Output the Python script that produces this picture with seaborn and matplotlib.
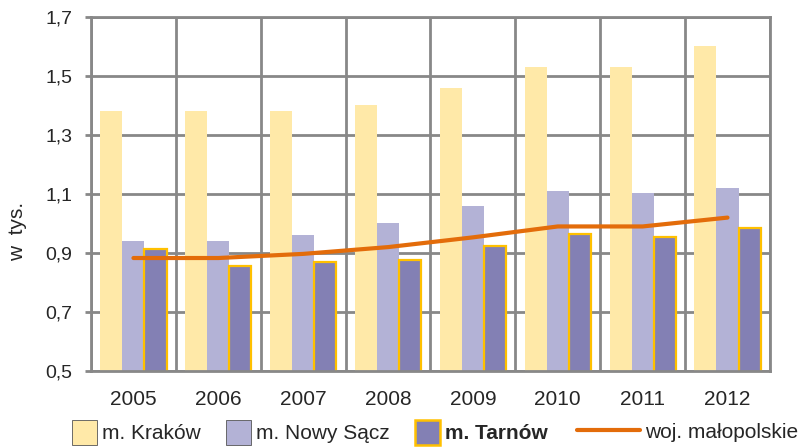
import pandas as pd
import matplotlib.pyplot as plt
import seaborn as sns
from matplotlib.patches import Patch
from matplotlib.lines import Line2D
from matplotlib.ticker import FixedLocator

years = ["2005", "2006", "2007", "2008", "2009", "2010", "2011", "2012"]
krakow = [1.38, 1.38, 1.38, 1.40, 1.46, 1.53, 1.53, 1.60]
nowy_sacz = [0.94, 0.94, 0.96, 1.00, 1.06, 1.11, 1.105, 1.12]
tarnow = [0.915, 0.855, 0.868, 0.875, 0.925, 0.965, 0.955, 0.985]
malopolskie = [0.883, 0.883, 0.897, 0.92, 0.953, 0.99, 0.99, 1.02]

series = ["m. Kraków", "m. Nowy Sącz", "m. Tarnów"]
colors = ["#FFE9A8", "#B3B2D6", "#8380B4"]

df = pd.DataFrame({
    "rok": years * 3,
    "miasto": [s for s in series for _ in years],
    "wartosc": krakow + nowy_sacz + tarnow,
})

sns.set_style("white")
plt.rcParams["font.family"] = ["Liberation Sans", "DejaVu Sans"]

fig = plt.figure(figsize=(8.02, 4.47), dpi=100)
ax = fig.add_axes([0.1135, 0.170, 0.8465, 0.792])

sns.barplot(data=df, x="rok", y="wartosc", hue="miasto", palette=colors,
            width=0.78, saturation=1, ax=ax, legend=False)
for bar in ax.containers[2]:
    bar.set_edgecolor("#FFC000")
    bar.set_linewidth(1.6)
for c in ax.containers[:2]:
    for bar in c:
        bar.set_edgecolor("none")

line_df = pd.DataFrame({"x": range(len(years)), "y": malopolskie})
sns.lineplot(data=line_df, x="x", y="y", color="#E36C0A", linewidth=3,
             ax=ax, zorder=5, solid_capstyle="round")

ax.set_ylim(0.5, 1.7)
ax.set_xlim(-0.5, len(years) - 0.5)
yt = [0.5, 0.7, 0.9, 1.1, 1.3, 1.5, 1.7]
ax.set_yticks(yt)
ax.set_yticklabels([f"{v:.1f}".replace(".", ",") for v in yt], fontsize=14)
ax.set_xticks(range(len(years)))
ax.set_xticklabels(years, fontsize=15)
ax.xaxis.set_minor_locator(FixedLocator([i - 0.5 for i in range(len(years) + 1)]))
ax.tick_params(axis="x", which="major", length=0, pad=14)
ax.tick_params(axis="x", which="minor", length=4.5, width=2, color="#888888")
ax.tick_params(axis="y", length=4.5, width=2, color="#888888", left=True, pad=9)
ax.grid(True, axis="y", color="#888888", linewidth=2)
ax.grid(True, axis="x", which="minor", color="#888888", linewidth=2)
ax.grid(False, axis="x", which="major")
ax.set_axisbelow(True)
for s in ax.spines.values():
    s.set_color("#888888")
    s.set_linewidth(2)
ax.set_xlabel("")
ax.set_ylabel("w  tys.", fontsize=15)
ax.yaxis.set_label_coords(-0.095, 0.393)

handles = [
    Patch(facecolor=colors[0], edgecolor="#555555", linewidth=0.6),
    Patch(facecolor=colors[1], edgecolor="#555555", linewidth=0.6),
    Patch(facecolor=colors[2], edgecolor="#FFC000", linewidth=1.8),
]
leg = fig.legend(handles, series, loc="center left", bbox_to_anchor=(0.09, 0.033),
                 ncol=3, frameon=False, fontsize=15, handlelength=1.2, handleheight=1.5,
                 handletextpad=0.25, columnspacing=1.2, borderpad=0, borderaxespad=0)
leg.get_texts()[2].set_fontweight("bold")
leg2 = fig.legend([Line2D([0], [0], color="#E36C0A", linewidth=3)], ["woj. małopolskie"],
                  loc="center left", bbox_to_anchor=(0.72, 0.033), frameon=False,
                  fontsize=15, handlelength=3.0, handletextpad=0.25, borderpad=0,
                  borderaxespad=0)

fig.savefig("out.png", dpi=100)
